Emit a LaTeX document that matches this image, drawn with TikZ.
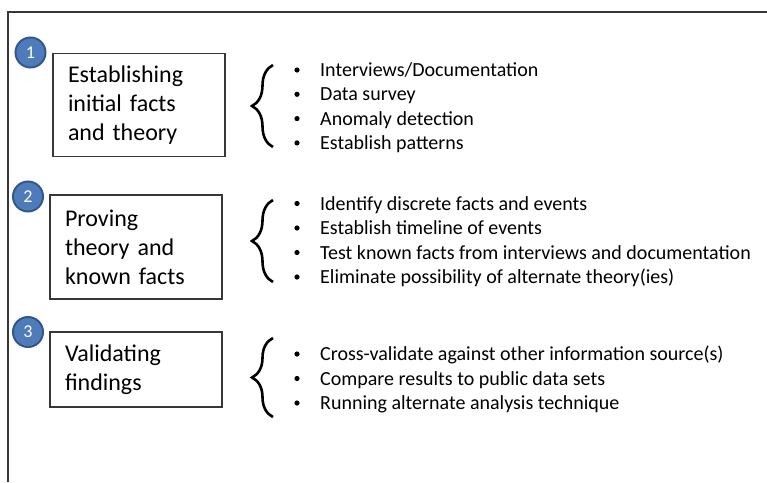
\documentclass[tikz,border=0pt]{standalone}
\usepackage{fontspec}
\setmainfont{Carlito}
\usepackage{tikz}
\usetikzlibrary{decorations.pathreplacing}
\definecolor{numblue}{RGB}{78,124,186}
\definecolor{numring}{RGB}{52,88,140}
\definecolor{framegray}{RGB}{55,55,55}
\tikzset{
  stagebox/.style={draw=framegray, line width=1.4pt, rectangle, minimum width=172pt,
    inner xsep=15pt, text width=142pt, align=left, font=\fontsize{24}{29}\selectfont},
  stepnum/.style={circle, fill=numblue, draw=numring, line width=2pt, minimum size=30pt,
    inner sep=0pt, text=white, font=\fontsize{18}{18}\selectfont},
  listitem/.style={anchor=base west, inner sep=0pt, font=\fontsize{20}{24}\selectfont},
  bigbrace/.style={decorate, decoration={brace, amplitude=21pt, aspect=0.5}, line width=2.6pt},
}

\begin{document}
\begin{tikzpicture}[x=1pt, y=-1pt]
  \useasboundingbox (0,0) rectangle (767,482);
  % outer frame (only top and left edges show)
  \draw[framegray, line width=1.3pt] (8,482) -- (8,12) -- (767,12);
  % stage boxes
  \node[stagebox, minimum height=103pt] (box1) at (139,105) {Establishing\\initial facts\\and theory};
  \node[stagebox, minimum height=104pt] (box2) at (136,247) {Proving\\theory and\\known facts};
  \node[stagebox, minimum height=75pt] (box3) at (136,369.5) {Validating\\findings};
  % numbered badges
  \node[stepnum] (num1) at (30.5,52.5) {1};
  \node[stepnum] (num2) at (28,196.5) {2};
  \node[stepnum] (num3) at (28,332) {3};
  % braces
  \draw[bigbrace] (273,147) -- (273,65);
  \draw[bigbrace] (273,282) -- (273,200);
  \draw[bigbrace] (273,417) -- (273,338);
  % first list
  \foreach \txt [count=\i] in {Interviews/Documentation, Data survey, Anomaly detection, Establish patterns} {
    \node[listitem] (itemA\i) at (320,{76.5+(\i-1)*24.3}) {\txt};
    \fill ([xshift=-23pt,yshift=6.5pt]itemA\i.base west) circle (2.6pt);
  }
  % second list
  \foreach \txt [count=\i] in {Identify discrete facts and events, Establish timeline of events,
      Test known facts from interviews and documentation, Eliminate possibility of alternate theory(ies)} {
    \node[listitem] (itemB\i) at (320,{210+(\i-1)*24.5}) {\txt};
    \fill ([xshift=-23pt,yshift=6.5pt]itemB\i.base west) circle (2.6pt);
  }
  % third list
  \foreach \txt [count=\i] in {Cross-validate against other information source(s), Compare results to public data sets,
      Running alternate analysis technique} {
    \node[listitem] (itemC\i) at (320,{360.5+(\i-1)*24.5}) {\txt};
    \fill ([xshift=-23pt,yshift=6.5pt]itemC\i.base west) circle (2.6pt);
  }
\end{tikzpicture}
\end{document}
